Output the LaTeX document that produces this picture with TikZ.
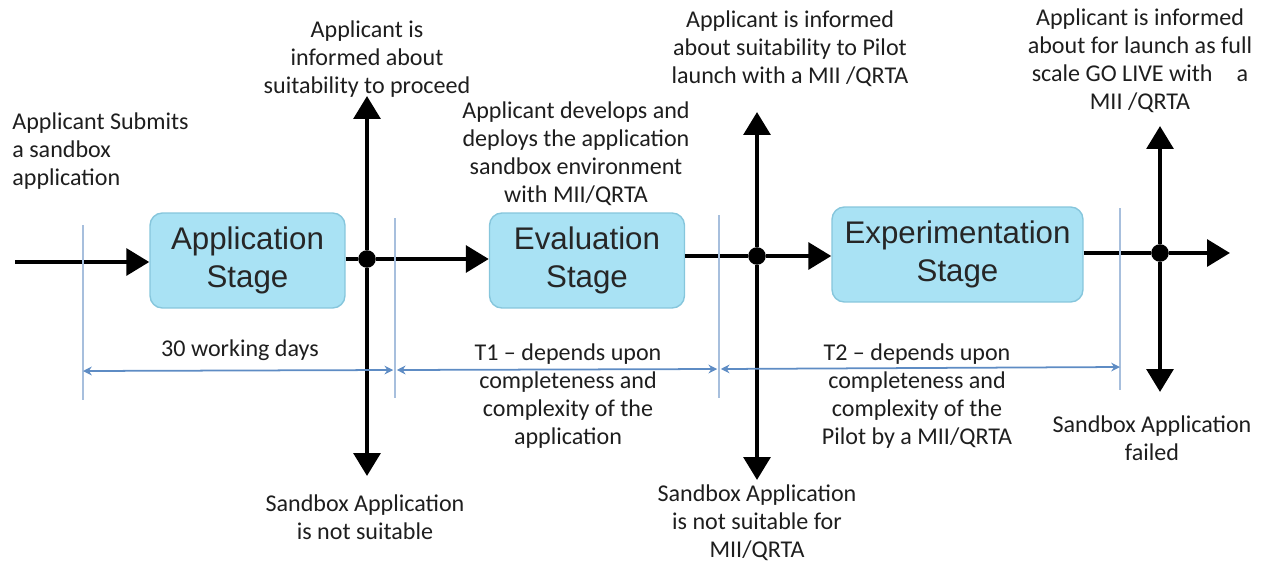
\documentclass[tikz,border=0pt]{standalone}
\usepackage{fontspec}
\setmainfont{Carlito}
\newfontfamily\stagefont{Liberation Sans}
\usetikzlibrary{arrows.meta}
\definecolor{stagefill}{HTML}{A9E2F4}
\definecolor{stageline}{HTML}{86C6DC}
\definecolor{guideblue}{HTML}{A7BFDD}
\definecolor{dimblue}{HTML}{5E8CC4}
\definecolor{notegray}{HTML}{1E1E1E}

\begin{document}
\begin{tikzpicture}[x=0.02cm,y=-0.02cm,
  stagebox/.style={draw=stageline,fill=stagefill,line width=0.8pt,rounded corners=7pt,
    minimum width=3.9cm,minimum height=1.9cm,align=center,
    font=\stagefont\fontsize{17.8}{21.6}\selectfont,text=black!85},
  note/.style={align=center,inner sep=0pt,text=notegray,font=\fontsize{13.7}{16}\selectfont},
  flow/.style={line width=2.6pt,-{Triangle[width=15pt,length=13pt]}},
  joint/.style={circle,fill=black,inner sep=0pt,minimum size=10pt},
  guide/.style={guideblue,line width=0.6pt},
  span/.style={dimblue,line width=1pt,{Stealth[length=5pt,width=5pt]}-{Stealth[length=5pt,width=5pt]}}]
\useasboundingbox (0,0) rectangle (1264,565);

% stages
\node[stagebox] (app) at (247.5,260.5) {Application\\Stage};
\node[stagebox] (eval) at (587,260.5) {Evaluation\\Stage};
\node[stagebox,minimum width=5.02cm] (exper) at (957.5,254.5) {Experimentation\\Stage};

% decision points
\node[joint] (d1) at (367,259) {};
\node[joint] (d2) at (757,256) {};
\node[joint] (d3) at (1160,253) {};

\coordinate (start) at (15,262);
\coordinate (finish) at (1230,253);
\coordinate (up1) at (367,96);
\coordinate (down1) at (367,476);
\coordinate (up2) at (757,112);
\coordinate (down2) at (757,480);
\coordinate (up3) at (1160,126);
\coordinate (down3) at (1160,392);

% main flow
\draw[flow] (start) -- (app.west |- start);
\draw[line width=2.6pt] (app.east |- d1) -- (d1);
\draw[flow] (d1) -- (eval.west |- d1);
\draw[line width=2.6pt] (eval.east |- d2) -- (d2);
\draw[flow] (d2) -- (exper.west |- d2);
\draw[line width=2.6pt] (exper.east |- d3) -- (d3);
\draw[flow] (d3) -- (finish);

\draw[flow] (d1) -- (up1);
\draw[flow] (d1) -- (down1);
\draw[flow] (d2) -- (up2);
\draw[flow] (d2) -- (down2);
\draw[flow] (d3) -- (up3);
\draw[flow] (d3) -- (down3);

% time spans
\draw[guide] (83,225) -- (83,400);
\draw[guide] (395,218) -- (395,398);
\draw[guide] (719,215) -- (719,398);
\draw[guide] (1120,208) -- (1120,390);
\coordinate (g0) at (83,371);
\coordinate (g1) at (395,370);
\coordinate (g2) at (719,369);
\coordinate (g3) at (1120,367);
\draw[span] (g0) -- ([xshift=-1pt]g1);
\draw[span] ([xshift=1pt]g1) -- ([xshift=-1pt]g2);
\draw[span] ([xshift=1pt]g2) -- (g3);

% labels
\node[note,align=left,anchor=north west] (submit) at (12,112) {Applicant Submits\\a sandbox\\application};
\node[note] (inform1) at (367,59) {Applicant is\\informed about\\suitability to proceed};
\node[note] (develop) at (576,154) {Applicant develops and\\deploys the application\\sandbox environment\\with MII/QRTA};
\node[note] (inform2) at (790,49) {Applicant is informed\\about suitability to Pilot\\launch with a MII /QRTA};
\node[note] (inform3) at (1140,61) {Applicant is informed\\about for launch as full\\scale GO LIVE with\quad a\\MII /QRTA};
\node[note] (days) at (240,350) {30 working days};
\node[note] (t1) at (568,396) {T1 -- depends upon\\completeness and\\complexity of the\\application};
\node[note] (t2) at (917,396) {T2 -- depends upon\\completeness and\\complexity of the\\Pilot by a MII/QRTA};
\node[note] (fail) at (1152,438) {Sandbox Application\\failed};
\node[note] (unfit1) at (365,517) {Sandbox Application\\is not suitable};
\node[note] (unfit2) at (757,523) {Sandbox Application\\is not suitable for\\MII/QRTA};
\end{tikzpicture}
\end{document}
